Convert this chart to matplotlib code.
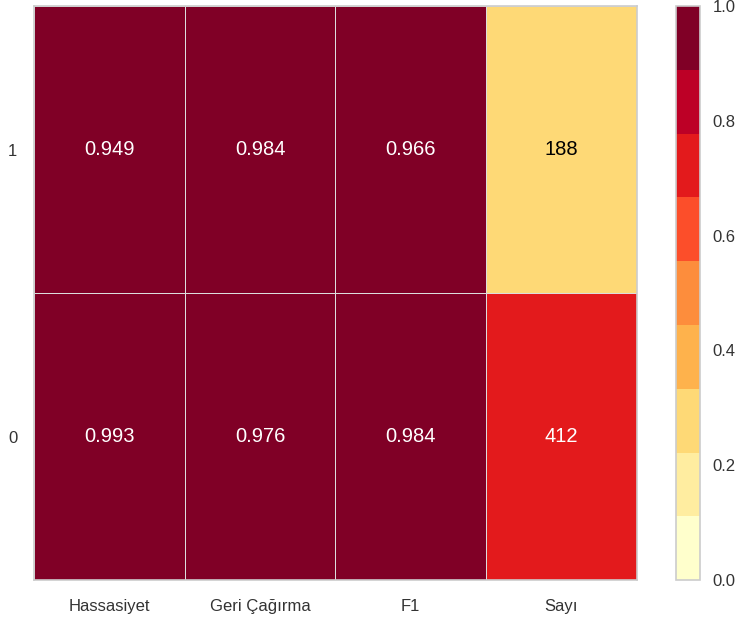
import numpy as np
import matplotlib
matplotlib.use("Agg")
import matplotlib.pyplot as plt
from matplotlib.colors import ListedColormap

plt.rcParams['font.family'] = ['Liberation Sans', 'DejaVu Sans']

classes = ["0", "1"]
metrics = ["Hassasiyet", "Geri Çağırma", "F1", "Sayı"]
precision = [0.993, 0.949]
recall = [0.976, 0.984]
f1 = [0.984, 0.966]
support = [412, 188]

colors = ['#ffffcc', '#ffeda0', '#fed976', '#feb24c', '#fd8d3c',
          '#fc4e2a', '#e31a1c', '#bd0026', '#800026']
cmap = ListedColormap(colors)

total = sum(support)
scores = np.array([precision, recall, f1, [s / total for s in support]]).T
labels = [[f"{precision[i]:.3f}", f"{recall[i]:.3f}", f"{f1[i]:.3f}", f"{support[i]}"]
          for i in range(len(classes))]

fig = plt.figure(figsize=(7.47, 6.22), dpi=100)
ax = fig.add_axes([0.0455, 0.0675, 0.807, 0.9225])
cax = fig.add_axes([0.905, 0.0675, 0.032, 0.9225])

nx, ny = len(metrics), len(classes)
X, Y = np.meshgrid(np.arange(nx + 1), np.arange(ny + 1))
mesh = ax.pcolormesh(X, Y, scores, cmap=cmap, vmin=0, vmax=1,
                     edgecolor='#dddddd', linewidth=0.5)

for i in range(ny):
    for j in range(nx):
        v = scores[i, j]
        rgba = cmap(min(int(v * 9), 8))
        lum = 0.299 * rgba[0] + 0.587 * rgba[1] + 0.114 * rgba[2]
        tc = 'black' if lum > 0.6 else 'white'
        ax.text(j + 0.5, i + 0.5, labels[i][j], ha='center', va='center',
                color=tc, fontsize=14.5)

ax.set_xlim(0, nx)
ax.set_ylim(0, ny)
ax.set_xticks(np.arange(nx) + 0.5)
ax.set_xticklabels(metrics, fontsize=12, color='#333333')
ax.set_yticks(np.arange(ny) + 0.5)
ax.set_yticklabels(classes, fontsize=12, color='#333333')
ax.tick_params(axis='x', length=0, pad=14)
ax.tick_params(axis='y', length=0, pad=12)
for s in ax.spines.values():
    s.set_color('#cccccc')
    s.set_linewidth(1.2)

cb = fig.colorbar(mesh, cax=cax)
cb.set_ticks([0, 0.2, 0.4, 0.6, 0.8, 1.0])
cb.ax.tick_params(length=0, labelsize=12, labelcolor='#333333', pad=9)
cb.outline.set_edgecolor('#cccccc')
cb.outline.set_linewidth(1.2)

fig.savefig("out.png", dpi=100, facecolor='white')
